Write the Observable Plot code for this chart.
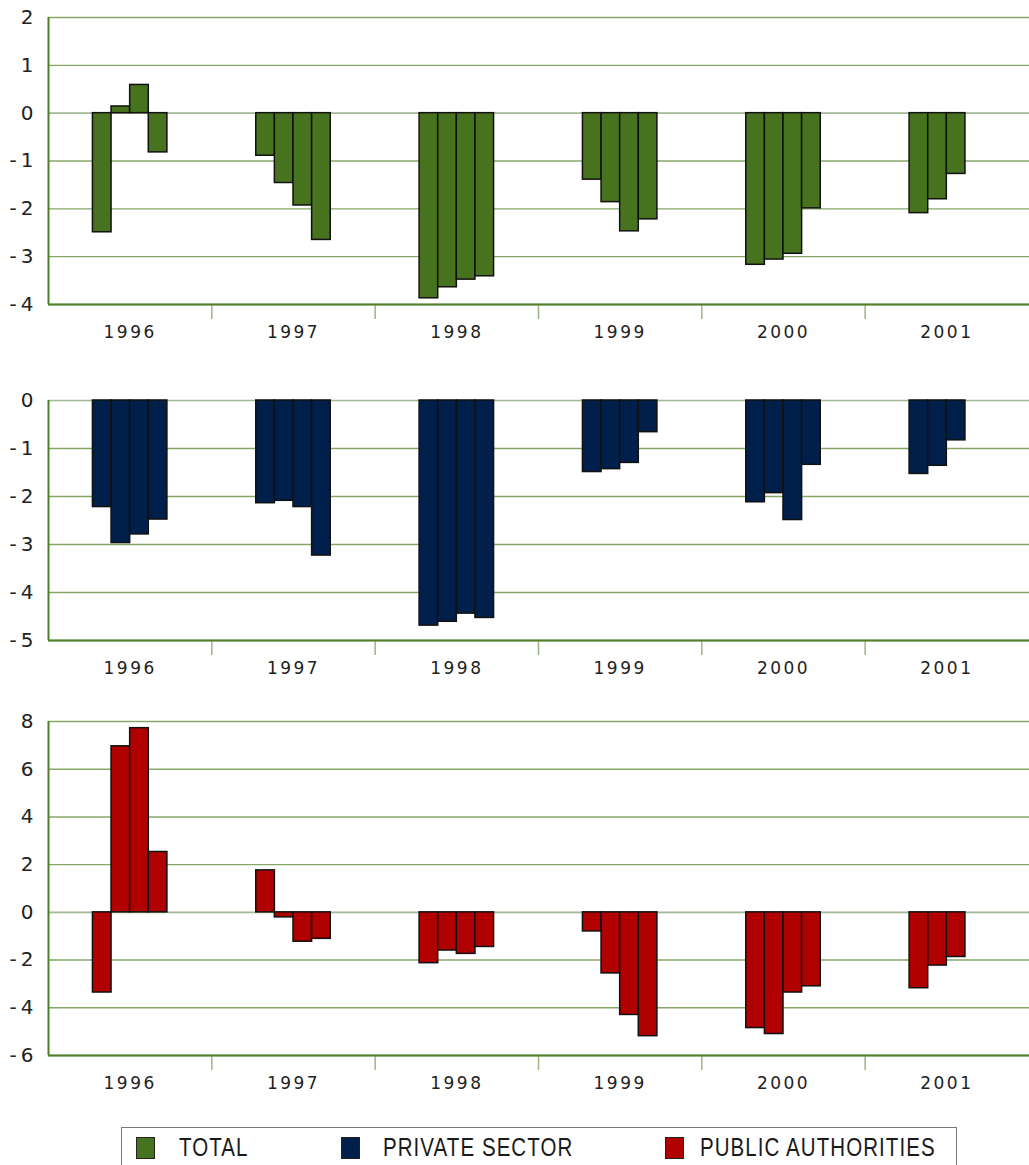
<!DOCTYPE html>
<html>
<head>
<meta charset="utf-8">
<script src="https://cdn.jsdelivr.net/npm/d3@7"></script>
<script src="https://cdn.jsdelivr.net/npm/@observablehq/plot@0.6"></script>
<style>
  body { margin: 0; background: #fff; width: 1029px; height: 1165px; overflow: hidden; position: relative; }
  #charts svg { display: block; }
  .yax text { font-size: 20px; font-family: "DejaVu Sans", sans-serif; fill: #222; }
  .yr text { font-size: 17px; letter-spacing: 2.5px; font-family: "DejaVu Sans", sans-serif; fill: #222; }
  #legend { position: absolute; left: 121px; top: 1127px; width: 836px; height: 60px; border: 1px solid #7a7a7a; box-sizing: border-box;
            font-family: "Liberation Sans", Arial, sans-serif; font-size: 25px; color: #1a1a1a; }
  .sw { position: absolute; top: 9px; width: 19px; height: 22px; border: 1px solid #222; box-sizing: border-box; }
  .lt { position: absolute; top: 5px; line-height: 28px; white-space: nowrap; transform: scaleX(0.82); transform-origin: left center; letter-spacing: 1.3px; }
</style>
</head>
<body>
<div id="charts"></div>
<div id="legend"></div>
<script>
// ---- data ----
const years = ["1996", "1997", "1998", "1999", "2000", "2001"];
const quarters = ["Q1", "Q2", "Q3", "Q4"];
const seriesNames = ["TOTAL", "PRIVATE SECTOR", "PUBLIC AUTHORITIES"];
const seriesColors = ["#47731e", "#00204b", "#b00000"];

const totalValues = [
  [-2.49, 0.14, 0.59, -0.82],
  [-0.89, -1.46, -1.93, -2.65],
  [-3.87, -3.64, -3.48, -3.41],
  [-1.39, -1.86, -2.47, -2.22],
  [-3.17, -3.06, -2.94, -1.99],
  [-2.09, -1.80, -1.27]
];
const privateValues = [
  [-2.22, -2.97, -2.79, -2.48],
  [-2.14, -2.09, -2.22, -3.23],
  [-4.69, -4.61, -4.44, -4.53],
  [-1.49, -1.43, -1.30, -0.66],
  [-2.12, -1.93, -2.49, -1.34],
  [-1.53, -1.36, -0.83]
];
const publicValues = [
  [-3.36, 6.96, 7.72, 2.53],
  [1.76, -0.21, -1.23, -1.11],
  [-2.13, -1.60, -1.74, -1.45],
  [-0.80, -2.56, -4.30, -5.19],
  [-4.85, -5.10, -3.36, -3.10],
  [-3.18, -2.23, -1.87]
];

const totalTicks = [-4, -3, -2, -1, 0, 1, 2];
const privateTicks = [-5, -4, -3, -2, -1, 0];
const publicTicks = [-6, -4, -2, 0, 2, 4, 6, 8];

// ---- build tables ----
const barW = 0.114; // fraction of a year band per quarter bar
function table(values) {
  const rows = [];
  values.forEach((row, i) => row.forEach((v, q) => {
    const x1 = i + 0.5 + (q - 2) * barW;
    rows.push({year: years[i], quarter: quarters[q], value: v, x1, x2: x1 + barW});
  }));
  return rows;
}

const gridColor = "#86a766";
const axisColor = "#4f7f2a";
const fmt = d => d < 0 ? "-\u2009" + Math.abs(d) : String(d);

function panel(values, ticks, color, height, mt, mb) {
  const data = table(values);
  const lo = d3.min(ticks), hi = d3.max(ticks);
  return Plot.plot({
    width: 1029,
    height,
    marginLeft: 48,
    marginRight: 0,
    marginTop: mt,
    marginBottom: mb,
    style: {fontFamily: "'DejaVu Sans', sans-serif", color: "#222", background: "#fff", overflow: "visible"},
    x: {type: "linear", domain: [0, years.length], range: [48, 1028]},
    y: {domain: [lo, hi], label: null},
    marks: [
      Plot.gridY(ticks.filter(t => t !== 0), {stroke: gridColor, strokeOpacity: 1, strokeWidth: 1.4}),
      Plot.gridY([0], {stroke: "#a3b894", strokeOpacity: 1, strokeWidth: 1.6}),
      Plot.axisY(ticks, {tickSize: 0, tickPadding: 15, tickFormat: fmt, label: null, className: "yax"}),
      Plot.axisX(d3.range(years.length).map(i => i + 0.5), {tickSize: 0, tickPadding: 21, tickFormat: d => years[Math.floor(d)], label: null, className: "yr"}),
      Plot.axisX(d3.range(1, years.length), {tickSize: 15, tickFormat: () => "", label: null, stroke: "#9bb585", strokeWidth: 1.5}),
      Plot.rectY(data, {x1: "x1", x2: "x2", y1: 0, y2: "value", fill: color, stroke: "#111", strokeWidth: 1.5}),
      Plot.ruleX([0], {stroke: axisColor, strokeWidth: 2}),
      Plot.ruleY([lo], {stroke: axisColor, strokeWidth: 2})
    ]
  });
}

const charts = document.getElementById("charts");
charts.append(panel(totalValues, totalTicks, seriesColors[0], 350, 17, 46));
charts.append(panel(privateValues, privateTicks, seriesColors[1], 340, 50, 50));
charts.append(panel(publicValues, publicTicks, seriesColors[2], 420, 31, 55));

// ---- legend ----
const legend = document.getElementById("legend");
const swLeft = [14, 219, 543];
const txtLeft = [57, 261, 578];
seriesNames.forEach((name, i) => {
  const sw = document.createElement("div");
  sw.className = "sw";
  sw.style.left = swLeft[i] + "px";
  sw.style.background = seriesColors[i];
  legend.append(sw);
  const t = document.createElement("div");
  t.className = "lt";
  t.style.left = txtLeft[i] + "px";
  t.textContent = name;
  legend.append(t);
});
</script>
</body>
</html>
